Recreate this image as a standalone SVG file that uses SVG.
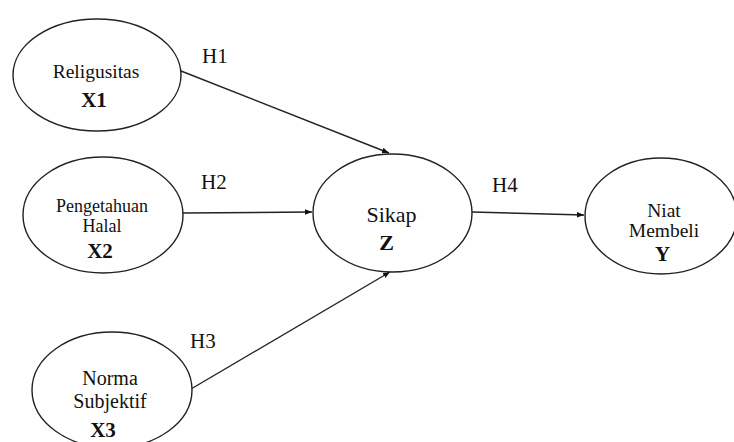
<svg xmlns="http://www.w3.org/2000/svg" width="734" height="442" viewBox="0 0 734 442">
<defs>
<style>
.node ellipse{fill:#fff;stroke:#222;stroke-width:1.4}
text{font-family:"Liberation Serif","Times New Roman",Times,serif;fill:#111}
.t{text-anchor:middle}
.b{font-weight:bold}
.h{font-size:21px}
.edge{stroke:#222;stroke-width:1.4;fill:none;marker-end:url(#arr)}
</style>
<marker id="arr" viewBox="0 0 10 10" refX="10" refY="5" markerWidth="7" markerHeight="7" markerUnits="userSpaceOnUse" orient="auto">
<path d="M0,1 L10,5 L0,9 z" fill="#111"/>
</marker>
</defs>
<rect width="734" height="442" fill="#fff"/>
<g id="connectors" font-family="Liberation Serif, serif">
<line class="edge" x1="181" y1="71" x2="389" y2="153"/>
<line class="edge" x1="183" y1="213" x2="312" y2="212"/>
<line class="edge" x1="191" y1="389" x2="390" y2="272"/>
<line class="edge" x1="472" y1="212" x2="584" y2="215"/>
<text class="h" x="202" y="63">H1</text>
<text class="h" x="201" y="189">H2</text>
<text class="h" x="190" y="348">H3</text>
<text class="h" x="492" y="192">H4</text>
</g>
<g id="x1" class="node" font-family="Liberation Serif, serif">
<ellipse cx="97" cy="75" rx="84" ry="56"/>
<text class="t" x="96" y="78" font-size="19.5">Religusitas</text>
<text class="t b" x="94" y="107" font-size="21">X1</text>
</g>
<g id="x2" class="node" font-family="Liberation Serif, serif">
<ellipse cx="103" cy="215" rx="80" ry="58"/>
<text class="t" x="102" y="212" font-size="18">Pengetahuan</text>
<text class="t" x="102" y="232" font-size="18">Halal</text>
<text class="t b" x="100" y="258" font-size="21">X2</text>
</g>
<g id="x3" class="node" font-family="Liberation Serif, serif">
<ellipse cx="112" cy="390" rx="80" ry="58"/>
<text class="t" x="110" y="385" font-size="20">Norma</text>
<text class="t" x="110" y="408" font-size="20">Subjektif</text>
<text class="t b" x="103" y="437" font-size="21">X3</text>
</g>
<g id="z" class="node" font-family="Liberation Serif, serif">
<ellipse cx="392.5" cy="213" rx="79.5" ry="59"/>
<text class="t" x="391.5" y="222" font-size="22">Sikap</text>
<text class="t b" x="386.5" y="250" font-size="22">Z</text>
</g>
<g id="y" class="node" font-family="Liberation Serif, serif">
<ellipse cx="661" cy="216" rx="76" ry="58"/>
<text class="t" x="664" y="217" font-size="19.5">Niat</text>
<text class="t" x="664" y="237" font-size="19.5">Membeli</text>
<text class="t b" x="662.5" y="261" font-size="21">Y</text>
</g>
</svg>
